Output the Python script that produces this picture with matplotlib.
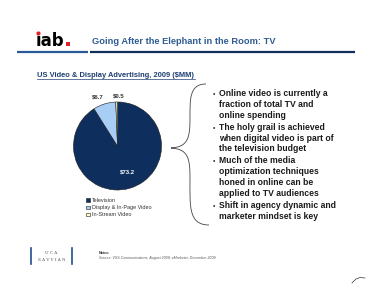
import matplotlib.pyplot as plt
from matplotlib.path import Path
import matplotlib.patches as mpat

plt.rcParams['font.family'] = ['Liberation Sans', 'DejaVu Sans']

# data
categories = ['Television', 'Display & In-Page Video', 'In-Stream Video']
values = [73.2, 6.7, 0.5]
value_labels = ['$73.2', '$6.7', '$0.5']
slice_cols = ['#0E2F5E', '#A8CEF5', '#FFFFC8']

bullets = [
    ['Online video is currently a', 'fraction of total TV and', 'online spending'],
    ['The holy grail is achieved', 'when digital video is part of', 'the television budget'],
    ['Much of the media', 'optimization techniques', 'honed in online can be', 'applied to TV audiences'],
    ['Shift in agency dynamic and', 'marketer mindset is key'],
]

W, H = 372, 285
fig = plt.figure(figsize=(W / 100, H / 100), dpi=100)

# background axes in pixel coords
bg = fig.add_axes([0, 0, 1, 1])
bg.set_xlim(0, W)
bg.set_ylim(H, 0)
bg.axis('off')

# header / logo
bg.text(35.5, 46, '\u0131ab', fontsize=12, fontweight='bold', color='black',
        va='baseline', family='DejaVu Sans')
bg.scatter([38.3], [32.5], s=9, color='#E0202A', zorder=5, linewidths=0)
bg.scatter([67.8], [44.2], s=8, color='#E0202A', marker='s', zorder=5, linewidths=0)
bg.text(92, 44, 'Going After the Elephant in the Room: TV', fontsize=6.7,
        fontweight='bold', color='#2F5C93', va='baseline')
bg.plot([17, 88], [52, 52], color='#2A5A9A', lw=1.6, solid_capstyle='butt')
bg.plot([90, 355], [52, 52], color='#0F2E5C', lw=1.6, solid_capstyle='butt')

# chart title
bg.text(37, 77, 'US Video & Display Advertising, 2009 ($MM)', fontsize=5.4,
        fontweight='bold', color='#1F3F73', va='baseline')
bg.plot([37, 195], [78.5, 78.5], color='#1F3F73', lw=0.5)

# pie
cx, cy, r = 117.5, 146, 44
pax = fig.add_axes([(cx - r) / W, (H - cy - r) / H, 2 * r / W, 2 * r / H])
wedges, _ = pax.pie(values, colors=slice_cols, startangle=90, counterclock=False,
                    wedgeprops=dict(edgecolor='#1a1a1a', linewidth=0.4))
pax.set_xlim(-1, 1)
pax.set_ylim(-1, 1)
pax.text(0.22, -0.6, value_labels[0], color='white', fontsize=4.3, fontweight='bold',
         ha='center', va='center')
pax.text(-0.45, 1.12, value_labels[1], color='#333333', fontsize=4.3, fontweight='bold',
         ha='center', va='center')
pax.text(0.02, 1.14, value_labels[2], color='#333333', fontsize=4.3, fontweight='bold',
         ha='center', va='center')

# legend
for i, (cat, col) in enumerate(zip(categories, slice_cols)):
    y = 200 + i * 7.3
    bg.add_patch(mpat.Rectangle((86.3, y - 1.8), 3.6, 3.6, facecolor=col,
                                edgecolor='#1a1a1a', lw=0.4))
    bg.text(91.5, y, cat, fontsize=4.0, color='#333333', va='center')

# brace
brace = Path([(206, 84), (189, 84), (190, 100), (190, 118),
              (190, 138), (188, 147), (171, 148),
              (188, 149), (190, 158), (190, 178),
              (190, 205), (188, 225), (209, 225)],
             [Path.MOVETO, Path.CURVE4, Path.CURVE4, Path.CURVE4,
              Path.CURVE4, Path.CURVE4, Path.CURVE4,
              Path.CURVE4, Path.CURVE4, Path.CURVE4,
              Path.CURVE4, Path.CURVE4, Path.CURVE4])
bg.add_patch(mpat.PathPatch(brace, facecolor='none', edgecolor='#444444', lw=0.6))

# bullets
y = 96
for group in bullets:
    for j, line in enumerate(group):
        if j == 0:
            bg.text(213, y, '\u2022', fontsize=5, color='#333333', va='baseline')
        bg.text(219, y, line, fontsize=6.2, fontweight='bold', color='#1a1a1a',
                va='baseline')
        y += 10.8
    y += 1.3

# footer
bg.plot([31, 31], [248, 264], color='#1F4F8A', lw=1.2)
bg.plot([72, 72], [248, 264], color='#1F4F8A', lw=1.2)
bg.text(51.5, 253, 'U C A', fontsize=3, color='#555555', ha='center', va='center',
        family='DejaVu Serif')
bg.text(51.5, 260, 'S A V V I A N', fontsize=3, color='#555555', ha='center',
        va='center', family='DejaVu Serif')
bg.text(99, 253.5, 'Notes:', fontsize=2.6, fontweight='bold', color='#333333', va='center')
bg.text(99, 258.5, 'Source: VSS Communications, August 2009; eMarketer, December 2009',
        fontsize=2.65, style='italic', color='#555555', va='center')
bg.plot([352, 356, 360, 365], [283, 279, 277.5, 278], color='#333333', lw=0.5)

fig.savefig('out.png', dpi=100)
